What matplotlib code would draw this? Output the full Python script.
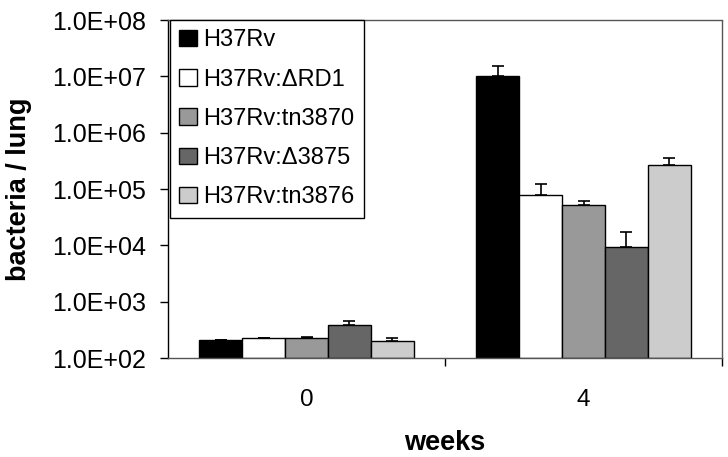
import matplotlib
matplotlib.use("Agg")
import matplotlib.pyplot as plt
import numpy as np
from matplotlib.ticker import FixedLocator, FuncFormatter, NullLocator

plt.rcParams['font.family'] = ['Liberation Sans', 'DejaVu Sans']

weeks = ["0", "4"]
strains = ["H37Rv", "H37Rv:\u0394RD1", "H37Rv:tn3870", "H37Rv:\u03943875", "H37Rv:tn3876"]
values = {
    "H37Rv":          [210, 1.0e7],
    "H37Rv:\u0394RD1":  [225, 7.8e4],
    "H37Rv:tn3870":   [230, 5.2e4],
    "H37Rv:\u03943875": [390, 9.2e3],
    "H37Rv:tn3876":   [200, 2.7e5],
}
errors = {
    "H37Rv":          [0, 5.0e6],
    "H37Rv:\u0394RD1":  [0, 4.5e4],
    "H37Rv:tn3870":   [5, 1.0e4],
    "H37Rv:\u03943875": [60, 7.8e3],
    "H37Rv:tn3876":   [25, 8.0e4],
}
colors = ["#000000", "#ffffff", "#999999", "#666666", "#cccccc"]

fig = plt.figure(figsize=(7.28, 4.57), dpi=100)
ax = fig.add_axes([168/728, 1-358/457, (722-168)/728, (358-20)/457])

x = np.arange(len(weeks))
bw = 0.155
n = len(strains)
for i, s in enumerate(strains):
    pos = x + (i - (n-1)/2) * bw
    vals = np.array(values[s])
    ax.bar(pos, vals - 100, bottom=100, width=bw, color=colors[i], edgecolor='black',
           linewidth=1.0, label=s, zorder=2)
    err = np.array(errors[s])
    ax.errorbar(pos, vals, yerr=[np.zeros_like(err), err], fmt='none', ecolor='black',
                elinewidth=1.2, capsize=4.5, capthick=1.2, zorder=3)

ax.set_yscale('log')
ax.set_ylim(1e2, 1e8)
ax.set_xlim(-0.5, len(weeks) - 0.5)
ax.yaxis.set_major_locator(FixedLocator([10.0**k for k in range(2, 9)]))
ax.yaxis.set_minor_locator(NullLocator())
ax.yaxis.set_major_formatter(FuncFormatter(lambda v, p: "1.0E+%02d" % int(round(np.log10(v)))))
ax.set_xticks(x)
ax.set_xticklabels(weeks)
ax.xaxis.set_minor_locator(FixedLocator([0.5, 1.5]))
ax.tick_params(axis='x', which='major', length=0, pad=22, labelsize=17.5)
ax.tick_params(axis='x', which='minor', length=6, width=1, color='black', direction='out')
ax.tick_params(axis='y', length=6, width=1, direction='out', labelsize=18, pad=10)

for side in ['top', 'right', 'bottom']:
    ax.spines[side].set_linestyle((0, (1, 1)))
    ax.spines[side].set_color('#555555')
    ax.spines[side].set_linewidth(1.0)
ax.spines['left'].set_color('black')
ax.spines['left'].set_linewidth(1.0)

ax.set_ylabel("bacteria / lung", fontsize=19.5, fontweight='bold')
ax.yaxis.set_label_coords(-0.245, 0.5)
ax.set_xlabel("weeks", fontsize=19.5, fontweight='bold', labelpad=14)

leg = ax.legend(loc='upper left', bbox_to_anchor=(0.003, 1.0), borderaxespad=0,
                fontsize=17, fancybox=False, framealpha=1, edgecolor='black',
                handlelength=0.76, handleheight=0.7, handletextpad=0.25,
                labelspacing=0.73, borderpad=0.4)
leg.get_frame().set_linewidth(1.0)

fig.savefig("out.png", dpi=100)
